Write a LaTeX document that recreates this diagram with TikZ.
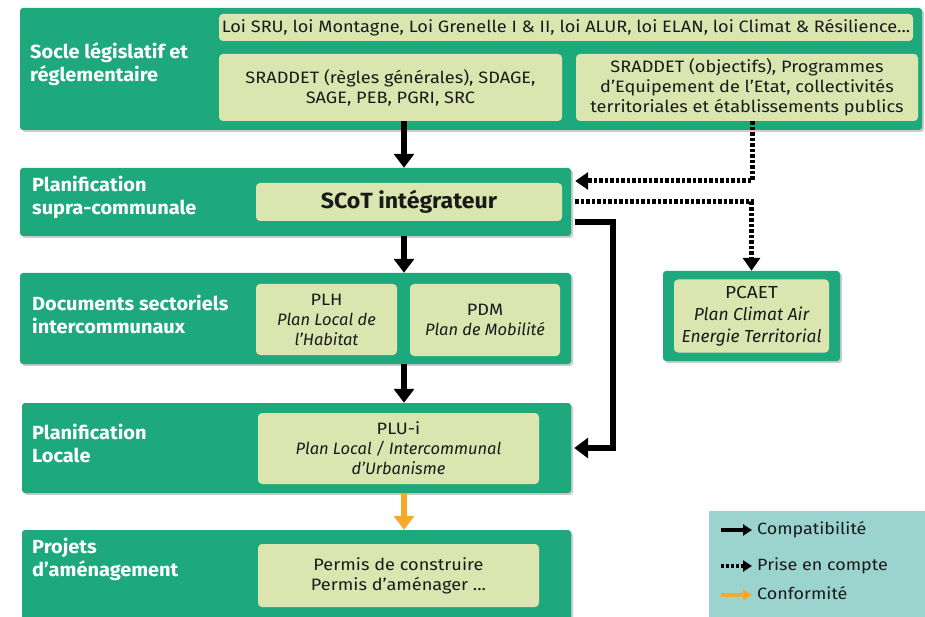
\documentclass[tikz,border=0pt]{standalone}
\usepackage{fontspec}
\setmainfont{Fira Sans}[UprightFeatures={FakeStretch=1.1},BoldFeatures={FakeStretch=1.05}]
\usetikzlibrary{arrows.meta,shadows,calc}
\definecolor{bandgreen}{HTML}{1EA97C}
\definecolor{innerlight}{HTML}{DBE5AF}
\definecolor{legendteal}{HTML}{9BD3CF}
\definecolor{confor}{HTML}{F6A82A}
\definecolor{txtdark}{HTML}{1A1A1A}
\tikzset{
  band/.style={fill=bandgreen, rounded corners=3pt, inner sep=0pt,
    drop shadow={shadow xshift=2pt, shadow yshift=-2pt, opacity=0.2, fill=black}},
  innerbox/.style={fill=innerlight, rounded corners=4pt, inner sep=0pt, align=center,
    text=txtdark, font=\fontsize{16.5}{20}\selectfont},
  bandlabel/.style={anchor=west, align=left, text=white, inner sep=0pt,
    font=\bfseries\fontsize{19}{23}\selectfont},
  compat/.style={line width=5.5pt, line join=miter, -{Triangle[length=14pt,width=20pt]}},
  conform/.style={line width=5.5pt, draw=confor, -{Triangle[length=14pt,width=20pt]}},
  prise/.style={line width=5pt, line join=miter, dash pattern=on 3.5pt off 2pt,
    -{Triangle[length=13pt,width=17pt]}},
  legtext/.style={anchor=west, inner sep=0pt, text=txtdark, text height=12pt, text depth=3pt,
    font=\fontsize{16.3}{20}\selectfont},
  legarrow/.style={line width=4pt, shorten >=5pt, -{Triangle[length=9pt,width=11pt]}},
}
\begin{document}
\begin{tikzpicture}[x=1pt,y=-1pt]
\clip (0,0) rectangle (925,617);
\fill[white] (0,0) rectangle (925,617);

% band 1
\node[band, minimum width=902pt, minimum height=122pt] (b1) at (471,69) {};
\node[innerbox, minimum width=694pt, minimum height=27pt] (loi) at (566,27.5)
  {Loi SRU, loi Montagne, Loi Grenelle I \& II, loi ALUR, loi ELAN, loi Climat \& Résilience...};
\node[innerbox, minimum width=343pt, minimum height=67pt] (srad) at (390.5,87.5)
  {SRADDET (règles générales), SDAGE,\\SAGE, PEB, PGRI, SRC};
\node[innerbox, minimum width=342pt, minimum height=67pt] (sobj) at (747,87.5)
  {SRADDET (objectifs), Programmes\\d’Equipement de l’Etat, collectivités\\territoriales et établissements publics};
\node[bandlabel] (l1) at (30,64) {Socle législatif et\\réglementaire};

% band 2
\node[band, minimum width=551pt, minimum height=68pt] (b2) at (295.5,202) {};
\node[innerbox, minimum width=306pt, minimum height=38pt, font=\bfseries\fontsize{22}{26}\selectfont] (scot) at (409,202) {SCoT intégrateur};
\node[bandlabel] (l2) at (32,197) {Planification\\supra-communale};

% band 3
\node[band, minimum width=551pt, minimum height=91pt] (b3) at (295.5,318.5) {};
\node[innerbox, minimum width=141pt, minimum height=71pt] (plh) at (326.5,319.5)
  {PLH\\\itshape Plan Local de\\\itshape l’Habitat};
\node[innerbox, minimum width=150pt, minimum height=72pt] (pdm) at (485,320)
  {PDM\\\itshape Plan de Mobilité};
\node[bandlabel] (l3) at (32,314.5) {Documents sectoriels\\intercommunaux};

% PCAET
\node[band, minimum width=177pt, minimum height=90pt] (pc) at (751.5,316) {};
\node[innerbox, minimum width=155pt, minimum height=73pt, font=\fontsize{17.4}{22}\selectfont] (pcaet) at (751.5,316)
  {PCAET\\\itshape Plan Climat Air\\\itshape Energie Territorial};

% band 4
\node[band, minimum width=549pt, minimum height=90pt] (b4) at (296.5,448) {};
\node[innerbox, minimum width=281pt, minimum height=71pt] (plu) at (398.5,448.5)
  {PLU-i\\\itshape Plan Local / Intercommunal\\\itshape d’Urbanisme};
\node[bandlabel] (l4) at (32,443) {Planification\\Locale};

% band 5
\node[band, minimum width=549pt, minimum height=120pt] (b5) at (296.5,590) {};
\node[innerbox, minimum width=281pt, minimum height=63pt] (perm) at (398.5,575.5)
  {Permis de construire\\Permis d’aménager ...};
\node[bandlabel] (l5) at (32,559.5) {Projets\\d’aménagement};

% legend
\node[fill=legendteal, minimum width=230pt, minimum height=120pt, inner sep=0pt] (leg) at (824,571) {};
\coordinate (la1) at (721,530);
\coordinate (la2) at (721,566);
\coordinate (la3) at (721,595);
\node[legtext] (lt1) at (757,530) {Compatibilité};
\node[legtext] (lt2) at (757,566) {Prise en compte};
\node[legtext] (lt3) at (757,595) {Conformité};
\draw[legarrow] (la1) -- (la1 -| lt1.west);
\draw[legarrow, dash pattern=on 3pt off 2pt] (la2) -- (la2 -| lt2.west);
\draw[legarrow, draw=confor] (la3) -- (la3 -| lt3.west);

% vertical spine
\coordinate (ax) at (404,0);
\coordinate (dx) at (752,0);
\coordinate (rx) at (613,0);
\draw[compat] (srad.south -| ax) -- (b2.north -| ax);
\draw[compat] (b2.south -| ax) -- (b3.north -| ax);
\draw[compat] (b3.south -| ax) -- (b4.north -| ax);
\draw[conform] (b4.south -| ax) -- (b5.north -| ax);

% prise en compte
\draw[prise] (sobj.south -| dx) |- ([xshift=4pt,yshift=21pt]b2.east);
\draw[prise] ([xshift=4pt]b2.east) -| (pc.north);
% compatibilite to PLU
\draw[compat] ([xshift=4pt,yshift=-20pt]b2.east) -| (rx |- b4.east) -- ([xshift=3pt]b4.east);
\end{tikzpicture}
\end{document}
